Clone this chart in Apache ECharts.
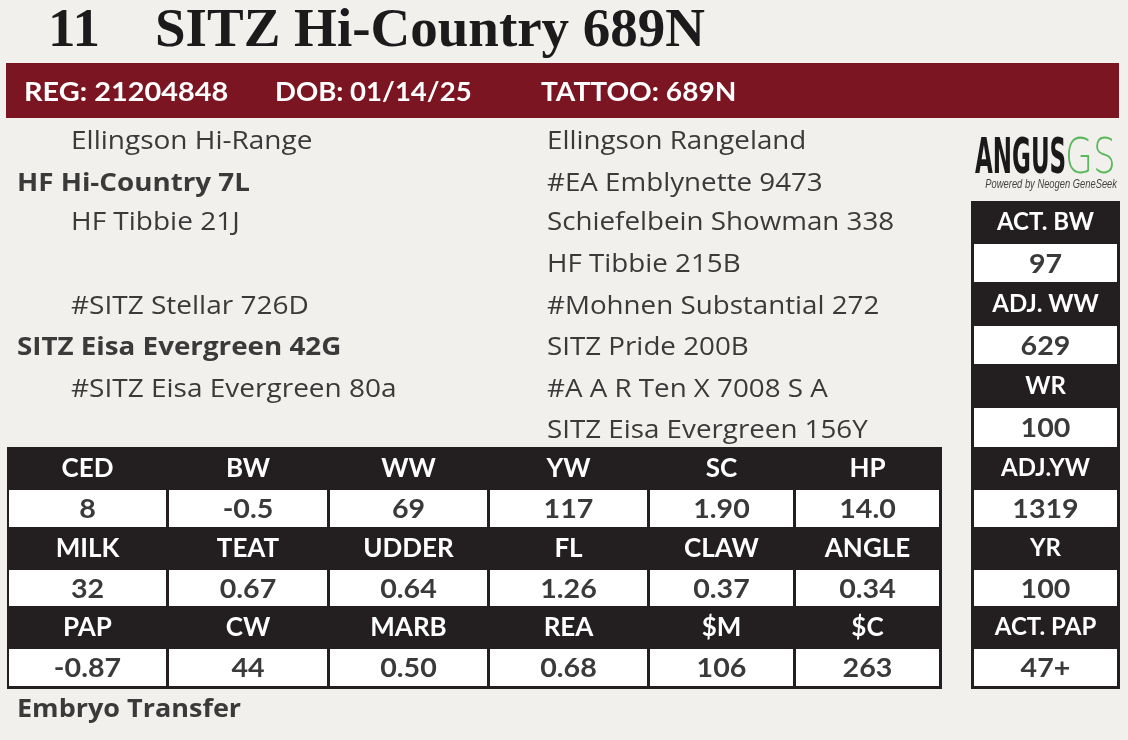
<!DOCTYPE html>
<html><head><meta charset="utf-8">
<script src="https://cdn.jsdelivr.net/npm/echarts@6/dist/echarts.min.js"></script>
<style>html,body{margin:0;padding:0;background:#f2f0ec}#chart{width:1128px;height:740px}</style>
</head><body><div id="chart"></div>
<script>
// ---------- DATA ----------
const lotNumber = '11';
const animalName = 'SITZ Hi-Country 689N';
const idLabels = ['REG: 21204848', 'DOB: 01/14/25', 'TATTOO: 689N'];
const pedigreeInner = ['Ellingson Hi-Range', 'HF Hi-Country 7L', 'HF Tibbie 21J', '',
  '#SITZ Stellar 726D', 'SITZ Eisa Evergreen 42G', '#SITZ Eisa Evergreen 80a', ''];
const pedigreeOuter = ['Ellingson Rangeland', '#EA Emblynette 9473', 'Schiefelbein Showman 338', 'HF Tibbie 215B',
  '#Mohnen Substantial 272', 'SITZ Pride 200B', '#A A R Ten X 7008 S A', 'SITZ Eisa Evergreen 156Y'];
const epdNames = ['CED', 'BW', 'WW', 'YW', 'SC', 'HP',
  'MILK', 'TEAT', 'UDDER', 'FL', 'CLAW', 'ANGLE',
  'PAP', 'CW', 'MARB', 'REA', '$M', '$C'];
const epdValues = ['8', '-0.5', '69', '117', '1.90', '14.0',
  '32', '0.67', '0.64', '1.26', '0.37', '0.34',
  '-0.87', '44', '0.50', '0.68', '106', '263'];
const sideNames = ['ACT. BW', 'ADJ. WW', 'WR', 'ADJ.YW', 'YR', 'ACT. PAP'];
const sideValues = ['97', '629', '100', '1319', '100', '47+'];
const footnote = 'Embryo Transfer';
const logoMain = 'ANGUS', logoSub = 'GS', logoTag = 'Powered by Neogen GeneSeek';

// ---------- LAYOUT ----------
const W = 1128, H = 740;
const SANS = '"Lato", "Open Sans", "Noto Sans", sans-serif';
const BODY = '"Open Sans", "Noto Sans", sans-serif';
const SERIF = '"Liberation Serif", "DejaVu Serif", serif';
const INK = '#231f20', TXT = '#3a3a3a', RED = '#7b1522';
const colLeft = [9, 169, 330, 490, 650, 796];
const colW = [157, 158, 157, 157, 143, 143];
const tHeadTop = [447, 527, 606], tValTop = [490, 570, 649], tValBot = [527, 606, 686];
const sHeadTop = [201, 282, 364, 447, 527, 606], sValTop = [244, 326, 408, 490, 570, 649], sValBot = [282, 364, 447, 527, 606, 686];
const pedRowY = [142, 184, 223, 265, 307, 348, 390, 431];
const boldRows = [1, 5];
const idScale = [1.07, 1.02, 1.04];

function rect(api, x, y, w, h, fill) {
  const p = api.coord([x, y]); const s = api.size([w, h]);
  return { type: 'rect', shape: { x: p[0], y: p[1], width: s[0], height: s[1] }, style: { fill: fill } };
}
function text(api, x, y, str, font, fill, align, extra) {
  const p = api.coord([x, y]);
  return Object.assign({ type: 'text', x: p[0], y: p[1],
    style: { text: str, x: 0, y: 0, font: font, fill: fill, textAlign: align || 'left', textVerticalAlign: 'middle', align: align || 'left', verticalAlign: 'middle' } }, extra || {});
}
const one = [[0]];

const chart = echarts.init(document.getElementById('chart'), null, { renderer: 'canvas' });
chart.setOption({
  backgroundColor: '#f2f0ec',
  animation: false,
  grid: { left: 0, right: 0, top: 0, bottom: 0 },
  xAxis: { type: 'value', min: 0, max: W, show: false },
  yAxis: { type: 'value', min: 0, max: H, inverse: true, show: false },
  series: [
    { // header: lot + name + red band
      type: 'custom', data: one, clip: false, silent: true,
      renderItem: function (params, api) {
        const ch = [
          text(api, 48, 32, lotNumber, 'bold 55px ' + SERIF, '#1c1a1b'),
          text(api, 155, 32, animalName, 'bold 55px ' + SERIF, '#1c1a1b', 'left', { scaleX: 1.0 }),
          rect(api, 6, 63, 1113, 55, RED)
        ];
        const xs = [24, 275, 541];
        idLabels.forEach(function (t, i) { ch.push(text(api, xs[i], 92, t, 'bold 27px ' + SANS, '#ffffff', 'left', { scaleX: idScale[i] })); });
        return { type: 'group', children: ch };
      }
    },
    { // pedigree
      type: 'custom', data: pedigreeInner.map(function (d, i) { return [i]; }), clip: false, silent: true,
      renderItem: function (params, api) {
        const i = params.dataIndex; const ch = [];
        const b = boldRows.indexOf(i) >= 0;
        if (pedigreeInner[i]) ch.push(text(api, b ? 17 : 71, pedRowY[i], pedigreeInner[i], (b ? 'bold ' : 'normal ') + '25px ' + BODY, TXT, 'left', { scaleX: b ? 1.11 : 1.12 }));
        if (pedigreeOuter[i]) ch.push(text(api, 547, pedRowY[i], pedigreeOuter[i], 'normal 25px ' + BODY, TXT, 'left', { scaleX: 1.11 }));
        return { type: 'group', children: ch };
      }
    },
    { // logo
      type: 'custom', data: one, clip: false, silent: true,
      renderItem: function (params, api) {
        return { type: 'group', children: [
          text(api, 975, 160, logoMain, 'bold 50px "DejaVu Sans", sans-serif', '#1a1a1a', 'left', { scaleX: 0.46 }),
          text(api, 1065, 160, logoSub, '200 50px "DejaVu Sans", sans-serif', '#5cb85c', 'left', { scaleX: 0.72 }),
          text(api, 1117, 185, logoTag, 'italic 12px "Liberation Sans", sans-serif', '#444444', 'right', { scaleX: 0.78 })
        ] };
      }
    },
    { // frames
      type: 'custom', data: [[0], [1]], clip: false, silent: true,
      renderItem: function (params, api) {
        return params.dataIndex === 0 ? rect(api, 7, 447, 935, 242, INK) : rect(api, 971, 201, 149, 488, INK);
      }
    },
    { // EPD table cells
      type: 'custom', data: epdNames.map(function (d, i) { return [i]; }), clip: false, silent: true,
      renderItem: function (params, api) {
        const i = params.dataIndex, r = Math.floor(i / 6), c = i % 6;
        const cx = colLeft[c] + colW[c] / 2;
        return { type: 'group', children: [
          rect(api, colLeft[c], tValTop[r], colW[c], tValBot[r] - tValTop[r], '#ffffff'),
          text(api, cx, (tHeadTop[r] + tValTop[r]) / 2, epdNames[i], 'bold 26px ' + SANS, '#ffffff', 'center'),
          text(api, cx, (tValTop[r] + tValBot[r]) / 2 + 1, epdValues[i], 'bold 27px ' + SANS, TXT, 'center', { scaleX: 1.06 })
        ] };
      }
    },
    { // side performance box
      type: 'custom', data: sideNames.map(function (d, i) { return [i]; }), clip: false, silent: true,
      renderItem: function (params, api) {
        const i = params.dataIndex, cx = 1045.5;
        return { type: 'group', children: [
          rect(api, 974, sValTop[i], 143, sValBot[i] - sValTop[i], '#ffffff'),
          text(api, cx, (sHeadTop[i] + sValTop[i]) / 2, sideNames[i], 'bold 24px ' + SANS, '#ffffff', 'center'),
          text(api, cx, (sValTop[i] + sValBot[i]) / 2 + 1, sideValues[i], 'bold 27px ' + SANS, TXT, 'center', { scaleX: 1.06 })
        ] };
      }
    },
    { // footnote
      type: 'custom', data: one, clip: false, silent: true,
      renderItem: function (params, api) {
        return text(api, 17, 710, footnote, 'bold 25px ' + BODY, TXT, 'left', { scaleX: 1.08 });
      }
    }
  ]
});
</script></body></html>
